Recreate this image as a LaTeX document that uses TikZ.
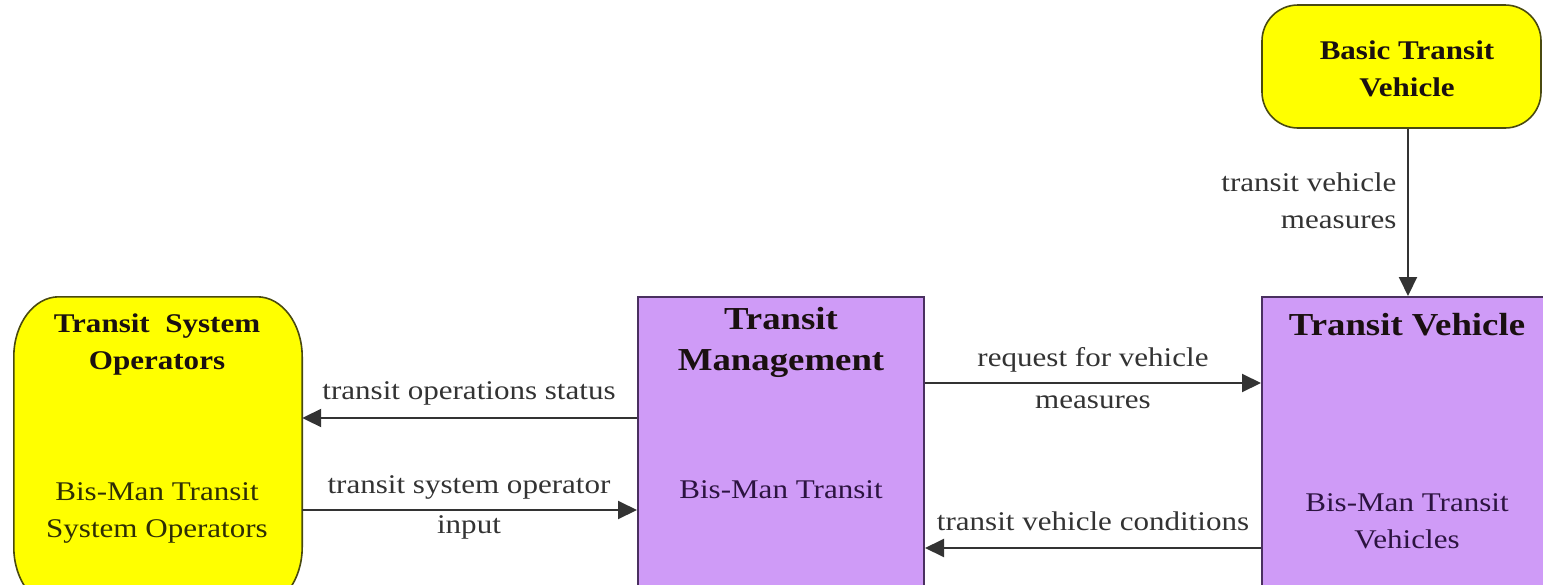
\documentclass[tikz,border=0pt]{standalone}
\usepackage{fontspec}
\setmainfont{Liberation Serif}[FakeStretch=1.15]
\usetikzlibrary{arrows.meta}
\definecolor{yel}{HTML}{FFFF00}
\definecolor{yelborder}{HTML}{4A4A10}
\definecolor{pur}{HTML}{CF9BF7}
\definecolor{purborder}{HTML}{4A3060}
\definecolor{labcol}{HTML}{333333}
\definecolor{titcol}{HTML}{1A1010}
\definecolor{subyel}{HTML}{2E2E05}
\definecolor{subpur}{HTML}{2C1440}
\tikzset{
  ybox/.style={draw=yelborder, fill=yel, line width=1.6pt},
  pbox/.style={draw=purborder, fill=pur, line width=2pt},
  title/.style={font=\fontsize{27}{37}\selectfont\bfseries, text=titcol, align=center},
  bigtitle/.style={font=\fontsize{32}{41}\selectfont\bfseries, text=titcol, align=center},
  sub/.style={font=\fontsize{27}{37}\selectfont, align=center},
  lab/.style={font=\fontsize{27}{37}\selectfont, text=labcol, align=center},
  arr/.style={draw=labcol, line width=2pt, -{Triangle[length=19pt,width=18pt]}}
}
\begin{document}
\begin{tikzpicture}[x=1pt,y=-1pt]
\useasboundingbox (0,0) rectangle (1543,584);
\fill[white] (0,0) rectangle (1543,584);
% boxes
\node[minimum width=288pt, minimum height=310pt, inner sep=0pt] (TSO) at (158,452) {};
\draw[ybox] (TSO.north west) ++(45,0) -- ([xshift=-45pt]TSO.north east)
  arc[start angle=90, end angle=0, x radius=45, y radius=-60]
  -- ([yshift=60pt]TSO.south east)
  arc[start angle=0, end angle=-90, x radius=45, y radius=-60]
  -- ([xshift=45pt]TSO.south west)
  arc[start angle=270, end angle=180, x radius=45, y radius=-60]
  -- ([yshift=-60pt]TSO.north west)
  arc[start angle=180, end angle=90, x radius=45, y radius=-60] -- cycle;
\node[pbox, minimum width=286pt, minimum height=305pt, inner sep=0pt] (TM) at (781,449.5) {};
\node[pbox, minimum width=300pt, minimum height=305pt, inner sep=0pt] (TV) at (1412,449.5) {};
\node[ybox, rounded corners=36pt, minimum width=279pt, minimum height=123pt, inner sep=0pt] (BTV) at (1401.5,66.5) {};
% texts
\node[title] (tsoT) at (157,345) {Transit\ \ System\\Operators};
\node[sub, text=subyel] (tsoS) at (157,513) {Bis-Man Transit\\System Operators};
\node[bigtitle] (tmT) at (781,342) {Transit\\Management};
\node[sub, text=subpur] (tmS) at (781,490) {Bis-Man Transit};
\node[bigtitle] (tvT) at (1407,325) {Transit Vehicle};
\node[sub, text=subpur] (tvS) at (1407,521) {Bis-Man Transit\\Vehicles};
\node[title] (btvT) at (1407,69) {Basic Transit\\Vehicle};
% connector levels
\coordinate (y1) at (0,418);
\coordinate (y2) at (0,510);
\coordinate (y3) at (0,383);
\coordinate (y4) at (0,548);
\coordinate (xv) at (1408,0);
\draw[arr] (TM.west |- y1) -- (TSO.east |- y1);
\draw[arr] (TSO.east |- y2) -- (TM.west |- y2);
\draw[arr] (TM.east |- y3) -- (TV.west |- y3);
\draw[arr] (TV.west |- y4) -- (TM.east |- y4);
\draw[arr] (xv |- BTV.south) -- (xv |- TV.north);
% labels
\node[lab] (l1) at (469,393) {transit operations status};
\node[lab] (l2a) at (469,487) {transit system operator};
\node[lab] (l2b) at (469,527) {input};
\node[lab] (l3a) at (1093,360) {request for vehicle};
\node[lab] (l3b) at (1093,402) {measures};
\node[lab] (l4) at (1093,521) {transit vehicle conditions};
\node[lab, align=right, anchor=east] (l5) at (1400,201) {transit vehicle\\measures};
\end{tikzpicture}
\end{document}
